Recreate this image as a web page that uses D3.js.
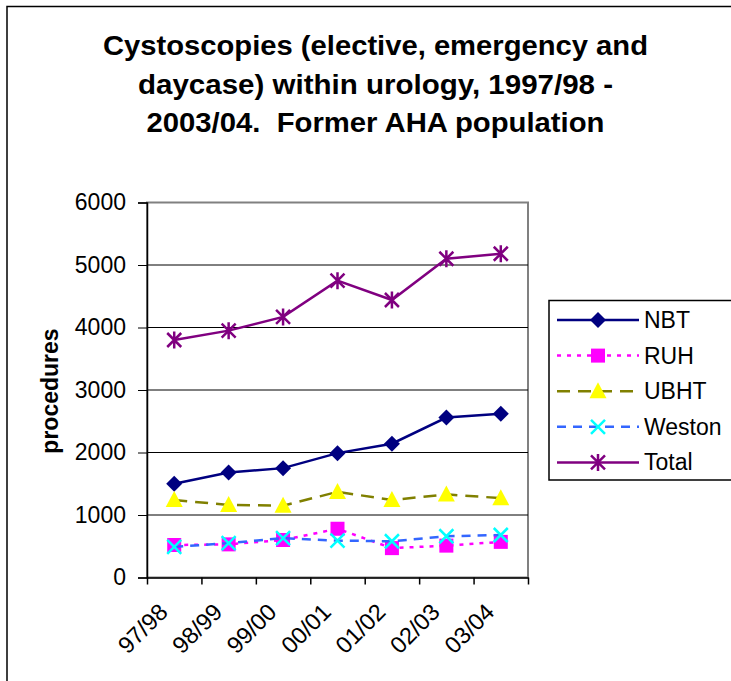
<!DOCTYPE html>
<html>
<head>
<meta charset="utf-8">
<script src="https://cdn.jsdelivr.net/npm/d3@7/dist/d3.min.js"></script>
<style>
  html, body { margin: 0; padding: 0; background: #fff; }
  svg { display: block; font-family: "Liberation Sans", Arial, sans-serif; }
</style>
</head>
<body>
<svg id="chart" width="731" height="681"></svg>
<script>
// Cystoscopies within urology by trust, 1997/98 - 2003/04
const years = ["97/98", "98/99", "99/00", "00/01", "01/02", "02/03", "03/04"];
const nbt    = [1500, 1680, 1750, 1990, 2140, 2560, 2620];
const ruh    = [520, 530, 600, 780, 470, 510, 570];
const ubht   = [1240, 1160, 1150, 1370, 1240, 1330, 1270];
const weston = [490, 550, 630, 590, 580, 660, 680];
const total  = [3800, 3950, 4170, 4750, 4440, 5100, 5180];
const yTicks = [0, 1000, 2000, 3000, 4000, 5000, 6000];
const titleLines = [
  "Cystoscopies (elective, emergency and",
  "daycase) within urology, 1997/98 -",
  "2003/04.  Former AHA population"
];
const titleWidths = [545, 475, 458];

const series = [
  { name: "NBT",    values: nbt,    color: "#000080", dash: null,   marker: "diamond" },
  { name: "RUH",    values: ruh,    color: "#FF00FF", dash: "4,6",  marker: "square" },
  { name: "UBHT",   values: ubht,   color: "#808000", dash: "13,8", marker: "triangle" },
  { name: "Weston", values: weston, color: "#3366FF", dash: "9,7",  marker: "cross" },
  { name: "Total",  values: total,  color: "#800080", dash: null,   marker: "star" }
];

const svg = d3.select("#chart");
const plot = { left: 147, right: 528, top: 202.5, bottom: 577.5 };

// outer chart frame
svg.append("rect")
  .attr("x", 7).attr("y", 6.5).attr("width", 740).attr("height", 700)
  .attr("fill", "#fff").attr("stroke", "#000").attr("stroke-width", 1.5);

// title
svg.append("g").selectAll("text").data(titleLines).join("text")
  .attr("x", 375.5).attr("y", (d, i) => 55 + i * 38.5)
  .attr("text-anchor", "middle")
  .attr("font-size", 27.5).attr("font-weight", "bold")
  .attr("textLength", (d, i) => titleWidths[i])
  .attr("lengthAdjust", "spacingAndGlyphs")
  .style("white-space", "pre")
  .text(d => d);

const x = d3.scaleLinear().domain([0, years.length]).range([plot.left, plot.right]);
const y = d3.scaleLinear().domain([0, 6000]).range([plot.bottom, plot.top]);

// plot area border (top / right in grey)
svg.append("rect")
  .attr("x", plot.left).attr("y", plot.top)
  .attr("width", plot.right - plot.left).attr("height", plot.bottom - plot.top)
  .attr("fill", "#fff").attr("stroke", "#808080").attr("stroke-width", 2);

// horizontal gridlines
svg.append("g").selectAll("line").data(yTicks.filter(v => v > 0 && v < 6000)).join("line")
  .attr("x1", plot.left).attr("x2", plot.right)
  .attr("y1", d => y(d)).attr("y2", d => y(d))
  .attr("stroke", "#000").attr("stroke-width", 1);

// y axis
const yAxis = svg.append("g")
  .attr("transform", `translate(${plot.left},0)`)
  .call(d3.axisLeft(y).tickValues(yTicks).tickFormat(d3.format("d")).tickSize(9).tickPadding(12));
yAxis.select(".domain").attr("stroke", "#000").attr("stroke-width", 1.5);
yAxis.selectAll(".tick line").attr("stroke", "#000").attr("stroke-width", 1);
yAxis.selectAll(".tick text").attr("font-size", 23).attr("fill", "#000")
  .attr("font-family", "'Liberation Sans', Arial, sans-serif");

// x axis: tick marks between categories
const xAxis = svg.append("g")
  .attr("transform", `translate(0,${plot.bottom})`)
  .call(d3.axisBottom(x).tickValues(d3.range(years.length + 1)).tickFormat("").tickSize(7).tickSizeOuter(0));
xAxis.select(".domain").attr("stroke", "#000").attr("stroke-width", 1.5);
xAxis.selectAll(".tick line").attr("stroke", "#000").attr("stroke-width", 1.5);

// rotated category labels
svg.append("g").selectAll("text").data(years).join("text")
  .attr("transform", (d, i) => `translate(${x(i + 0.5) - 5},${plot.bottom + 36}) rotate(-45)`)
  .attr("text-anchor", "end")
  .attr("font-size", 23.5)
  .text(d => d);

// y axis title
svg.append("text")
  .attr("transform", `translate(58,${(plot.top + plot.bottom) / 2 + 1}) rotate(-90)`)
  .attr("text-anchor", "middle")
  .attr("font-size", 23).attr("font-weight", "bold")
  .text("procedures");

// marker shapes
function drawMarker(g, type, color) {
  if (type === "diamond") {
    g.append("path").attr("d", "M0,-8L8,0L0,8L-8,0Z").attr("fill", color);
  } else if (type === "square") {
    g.append("rect").attr("x", -7).attr("y", -7).attr("width", 14).attr("height", 14).attr("fill", color);
  } else if (type === "triangle") {
    g.append("path").attr("d", "M0,-9L8.5,7L-8.5,7Z").attr("fill", "#FFFF00");
  } else if (type === "cross") {
    g.append("path").attr("d", "M-7,-7L7,7M-7,7L7,-7")
      .attr("stroke", "#00FFFF").attr("stroke-width", 2.5).attr("fill", "none");
  } else if (type === "star") {
    g.append("path").attr("d", "M-7,-7L7,7M-7,7L7,-7M0,-8.5L0,8.5")
      .attr("stroke", color).attr("stroke-width", 2.5).attr("fill", "none");
  }
}

const line = d3.line().x((d, i) => x(i + 0.5)).y(d => y(d));

series.forEach(s => {
  const g = svg.append("g");
  g.append("path")
    .attr("d", line(s.values))
    .attr("fill", "none")
    .attr("stroke", s.color)
    .attr("stroke-width", 2.5)
    .attr("stroke-dasharray", s.dash);
  s.values.forEach((v, i) => {
    const m = g.append("g").attr("transform", `translate(${x(i + 0.5)},${y(v)})`);
    drawMarker(m, s.marker, s.color);
  });
});

// legend
const legend = svg.append("g");
legend.append("rect")
  .attr("x", 549).attr("y", 300.5).attr("width", 200).attr("height", 179.5)
  .attr("fill", "#fff").attr("stroke", "#000").attr("stroke-width", 1.5);
series.forEach((s, i) => {
  const ly = 320 + i * 35.6;
  const g = legend.append("g");
  g.append("line")
    .attr("x1", 557).attr("x2", 639).attr("y1", ly).attr("y2", ly)
    .attr("stroke", s.color).attr("stroke-width", 2.5)
    .attr("stroke-dasharray", s.dash);
  drawMarker(g.append("g").attr("transform", `translate(598,${ly})`), s.marker, s.color);
  g.append("text")
    .attr("x", 644).attr("y", ly + 8)
    .attr("font-size", 23)
    .text(s.name);
});
</script>
</body>
</html>
